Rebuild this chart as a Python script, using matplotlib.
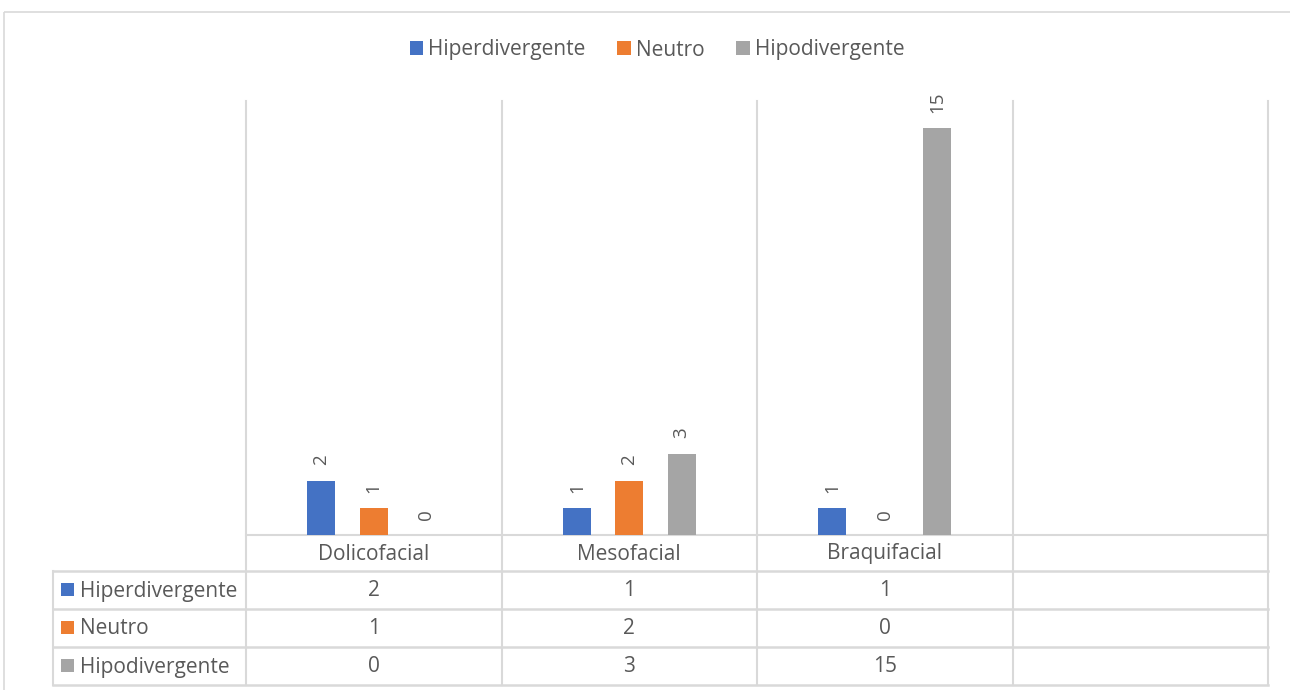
import matplotlib
matplotlib.use("Agg")
import matplotlib.pyplot as plt
from matplotlib.patches import Rectangle

plt.rcParams['font.family'] = ['Open Sans', 'DejaVu Sans']

# Data
categories = ["Dolicofacial", "Mesofacial", "Braquifacial", ""]
series_names = ["Hiperdivergente", "Neutro", "Hipodivergente"]
hiperdivergente = [2, 1, 1]
neutro = [1, 2, 0]
hipodivergente = [0, 3, 15]
series_values = [hiperdivergente, neutro, hipodivergente]
colors = ["#4472C4", "#ED7D31", "#A5A5A5"]

TEXT = "#595959"
GRID = "#D9D9D9"
FS = 15

W, H = 1290, 690
fig = plt.figure(figsize=(W / 100, H / 100), dpi=100)

# Layout in pixels
plot_l, plot_r = 246, 1268
plot_t, plot_b = 101, 535
row_edges = [535, 571, 609, 647, 685]
table_l = 53

# Overlay axes in pixel coordinates for frame and data table
ov = fig.add_axes([0, 0, 1, 1])
ov.set_xlim(0, W)
ov.set_ylim(H, 0)
ov.axis("off")

# Chart border
ov.add_patch(Rectangle((3.5, 11.5), W + 20, H + 20, fill=False,
                       edgecolor=GRID, linewidth=1.2))

ncat = len(categories)
col_w = (plot_r - plot_l) / ncat
col_edges = [plot_l + i * col_w for i in range(ncat + 1)]

# Vertical gridlines through plot and table
for x in col_edges:
    ov.plot([x, x], [plot_t, row_edges[-1]], color=GRID, lw=1.5)
ov.plot([table_l, table_l], [row_edges[1], row_edges[-1]], color=GRID, lw=1.5)
# Horizontal table lines
ov.plot([plot_l, plot_r], [row_edges[0], row_edges[0]], color=GRID, lw=1.5)
for y in row_edges[1:]:
    ov.plot([table_l, plot_r], [y, y], color=GRID, lw=1.8)

# Header row: category names
for i, cat in enumerate(categories):
    cx = (col_edges[i] + col_edges[i + 1]) / 2
    ov.text(cx, (row_edges[0] + row_edges[1]) / 2 + 1, cat, ha="center",
            va="center", color=TEXT, fontsize=FS)

# Series rows
for j, (name, vals, c) in enumerate(zip(series_names, series_values, colors)):
    yc = (row_edges[j + 1] + row_edges[j + 2]) / 2
    ov.add_patch(Rectangle((61, yc - 7), 13, 13, color=c, lw=0))
    ov.text(80, yc + 1, name, ha="left", va="center", color=TEXT, fontsize=FS)
    for i, v in enumerate(vals):
        cx = (col_edges[i] + col_edges[i + 1]) / 2
        ov.text(cx, yc + 1, str(v), ha="center", va="center", color=TEXT,
                fontsize=FS)

# Bar plot axes
ax = fig.add_axes([plot_l / W, 1 - plot_b / H, (plot_r - plot_l) / W,
                   (plot_b - plot_t) / H])
ax.patch.set_alpha(0)
ax.set_xlim(0, ncat)
ax.set_ylim(0, 16)
for s in ax.spines.values():
    s.set_visible(False)
ax.set_xticks([])
ax.set_yticks([])

bar_w = 0.11
gap = 0.205
handles = []
for j, (name, vals, c) in enumerate(zip(series_names, series_values, colors)):
    xs = [i + 0.5 + (j - 1) * gap for i in range(len(vals))]
    b = ax.bar(xs, vals, width=bar_w, color=c, label=name)
    handles.append(b)
    for x, v in zip(xs, vals):
        ax.annotate(str(v), (x, v), xytext=(0, 11), textcoords="offset points",
                    rotation=90, ha="center", va="bottom", color=TEXT,
                    fontsize=13.5)

fig.legend(handles=handles, labels=series_names, loc="center",
           bbox_to_anchor=(657 / W, 1 - 50 / H), ncol=3, frameon=False,
           fontsize=FS, labelcolor=TEXT, handlelength=0.67, handleheight=0.63,
           handletextpad=0.24, columnspacing=1.5)

fig.savefig("out.png", dpi=100)
